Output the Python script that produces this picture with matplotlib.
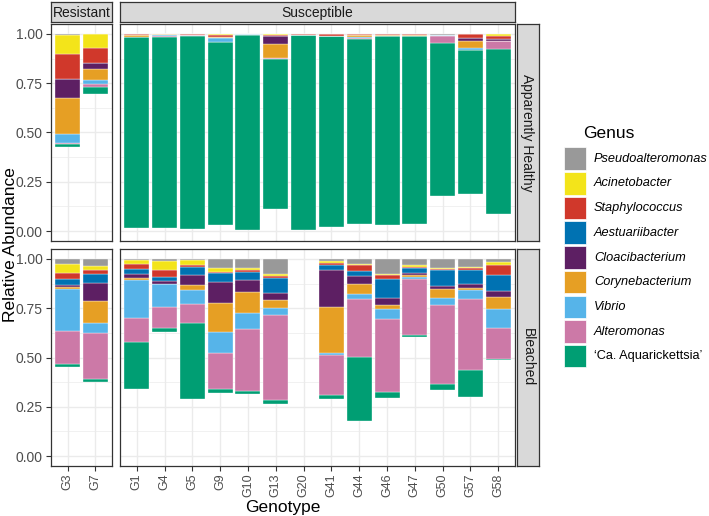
import numpy as np
import matplotlib
matplotlib.use("Agg")
import matplotlib.pyplot as plt
from matplotlib.patches import Rectangle

plt.rcParams['font.family'] = ['Liberation Sans', 'DejaVu Sans']

res_geno = ["G3", "G7"]
sus_geno = ["G1", "G4", "G5", "G9", "G10", "G13", "G20", "G41", "G44",
            "G46", "G47", "G50", "G57", "G58"]
genera = ["Pseudoalteromonas", "Acinetobacter", "Staphylococcus", "Aestuariibacter",
          "Cloacibacterium", "Corynebacterium", "Vibrio", "Alteromonas",
          "\u2018Ca. Aquarickettsia\u2019"]
colors = ["#999999", "#F3E41A", "#D0382B", "#0072B2", "#5D1F63",
          "#E69F24", "#56B4E9", "#CC79A7", "#009E73"]

# samples: G3, G7 | G1 G4 G5 G9 G10 G13 G20 G41 G44 G46 G47 G50 G57 G58
# apparently healthy
h_pseudo = [0.005, 0.003, 0, 0, 0, 0, 0, 0, 0, 0, 0, 0, 0, 0.005, 0, 0]
h_acineto = [0.095, 0.07, 0, 0, 0, 0.005, 0, 0.008, 0, 0, 0, 0, 0, 0, 0, 0.01]
h_staph = [0.127, 0.076, 0.005, 0, 0.008, 0.01, 0, 0.004, 0.008, 0.01, 0.006, 0.007, 0.007, 0, 0.022, 0.017]
h_aestu = [0, 0, 0, 0, 0, 0, 0, 0, 0, 0, 0, 0, 0, 0, 0, 0]
h_cloaci = [0.10, 0.031, 0, 0, 0, 0, 0, 0.04, 0, 0, 0, 0, 0, 0, 0.012, 0.007]
h_coryne = [0.18, 0.054, 0.01, 0.005, 0, 0.005, 0, 0.068, 0, 0, 0.008, 0.005, 0.006, 0, 0.039, 0]
h_vibrio = [0.047, 0.02, 0, 0.006, 0, 0.02, 0.004, 0, 0, 0, 0.005, 0, 0, 0.005, 0.007, 0.003]
h_altero = [0.005, 0.013, 0, 0.004, 0.004, 0, 0.004, 0.005, 0, 0, 0.006, 0, 0, 0.034, 0, 0.041]
h_aquar = [0.015, 0.038, 0.97, 0.97, 0.975, 0.927, 0.985, 0.763, 0.985, 0.97, 0.94, 0.958, 0.951, 0.776, 0.73, 0.837]

# bleached (G20 has no bleached sample)
b_pseudo = [0.024, 0.034, 0.006, 0.013, 0.005, 0.045, 0.045, 0.075, 0, 0.011, 0.024, 0.075, 0.031, 0.048, 0.04, 0.017]
b_acineto = [0.046, 0.022, 0.018, 0.044, 0.025, 0.02, 0.012, 0.012, 0, 0.012, 0.007, 0.009, 0.01, 0.005, 0.005, 0.016]
b_staph = [0.03, 0.02, 0.026, 0.035, 0.01, 0.008, 0.01, 0.008, 0, 0.008, 0.031, 0.016, 0.003, 0.005, 0.012, 0.051]
b_aestu = [0.033, 0.047, 0.028, 0.02, 0.042, 0.044, 0.042, 0.076, 0, 0.026, 0.025, 0.1, 0.029, 0.08, 0.072, 0.079]
b_cloaci = [0.009, 0.09, 0.017, 0.014, 0.051, 0.108, 0.059, 0.037, 0, 0.187, 0.042, 0.035, 0.009, 0.016, 0.017, 0.028]
b_coryne = [0.01, 0.11, 0.012, 0, 0.025, 0.144, 0.108, 0.043, 0, 0.231, 0.047, 0.017, 0.01, 0.042, 0.014, 0.065]
b_vibrio = [0.215, 0.051, 0.191, 0.116, 0.072, 0.109, 0.077, 0.034, 0, 0.012, 0.029, 0.054, 0.012, 0.038, 0.045, 0.096]
b_altero = [0.167, 0.233, 0.121, 0.106, 0.097, 0.183, 0.319, 0.43, 0, 0.203, 0.292, 0.371, 0.282, 0.401, 0.358, 0.157]
b_aquar = [0.012, 0.015, 0.242, 0.023, 0.381, 0.02, 0.014, 0.022, 0, 0.021, 0.324, 0.026, 0.008, 0.031, 0.137, 0.005]

healthy = np.array([h_pseudo, h_acineto, h_staph, h_aestu, h_cloaci, h_coryne, h_vibrio, h_altero, h_aquar])
bleached = np.array([b_pseudo, b_acineto, b_staph, b_aestu, b_cloaci, b_coryne, b_vibrio, b_altero, b_aquar])

W, H = 709, 516
fig = plt.figure(figsize=(W / 100, H / 100), dpi=100)


def px(x0, y0, x1, y1):
    return [x0 / W, 1 - y1 / H, (x1 - x0) / W, (y1 - y0) / H]


dark = "#333333"
xcols = [(51.3, 112), (120, 515)]
yrows = [(24, 241), (249, 466)]
groups = [(res_geno, slice(0, 2)), (sus_geno, slice(2, 16))]


def draw_panel(ax, data, labels, show_x, show_y):
    n = len(labels)
    x = np.arange(n)
    ax.set_xlim(-0.6, n - 0.4)
    ax.set_ylim(-0.05, 1.05)
    ax.set_yticks([0, 0.25, 0.5, 0.75, 1.0])
    ax.set_yticks([0.125, 0.375, 0.625, 0.875], minor=True)
    ax.set_xticks(x)
    ax.grid(True, which="major", color="#EBEBEB", lw=1.0)
    ax.grid(True, which="minor", axis="y", color="#EBEBEB", lw=0.5)
    ax.set_axisbelow(True)
    totals = data.sum(axis=0)
    bottom = 1 - totals
    for g in range(len(genera) - 1, -1, -1):
        vals = data[g]
        keep = totals > 0
        ax.bar(x[keep], vals[keep], bottom=bottom[keep], width=0.9,
               color=colors[g], edgecolor="white", linewidth=0.25)
        bottom = bottom + vals
    for s in ax.spines.values():
        s.set_color(dark)
        s.set_linewidth(0.9)
    ax.tick_params(which="major", length=3.5, color=dark, width=0.8,
                   labelsize=10, labelcolor="#4D4D4D", pad=2.5)
    ax.tick_params(axis="x", labelsize=9, pad=2)
    ax.tick_params(which="minor", length=0)
    if show_x:
        ax.set_xticklabels(labels, rotation=90)
    else:
        ax.set_xticklabels([])
        ax.tick_params(axis="x", length=0)
    if show_y:
        ax.set_yticklabels(["0.00", "0.25", "0.50", "0.75", "1.00"])
    else:
        ax.set_yticklabels([])
        ax.tick_params(axis="y", length=0)


for r, data in enumerate([healthy, bleached]):
    for c, (labels, sl) in enumerate(groups):
        ax = fig.add_axes(px(xcols[c][0], yrows[r][0], xcols[c][1], yrows[r][1]))
        draw_panel(ax, data[:, sl], labels, show_x=(r == 1), show_y=(c == 0))

# strips
for (x0, x1), name in zip(xcols, ["Resistant", "Susceptible"]):
    sax = fig.add_axes(px(x0, 1.5, x1, 22))
    sax.set_facecolor("#D9D9D9")
    sax.set_xticks([])
    sax.set_yticks([])
    for s in sax.spines.values():
        s.set_color(dark)
        s.set_linewidth(0.9)
    sax.text(0.5, 0.45, name, ha="center", va="center", fontsize=10, color="#1A1A1A",
             transform=sax.transAxes)
for (y0, y1), name in zip(yrows, ["Apparently Healthy", "Bleached"]):
    sax = fig.add_axes(px(516.5, y0, 538.5, y1))
    sax.set_facecolor("#D9D9D9")
    sax.set_xticks([])
    sax.set_yticks([])
    for s in sax.spines.values():
        s.set_color(dark)
        s.set_linewidth(0.9)
    sax.text(0.5, 0.5, name, ha="center", va="center", fontsize=10, color="#1A1A1A",
             rotation=-90, transform=sax.transAxes)

fig.text(11 / W, 1 - 245 / H, "Relative Abundance", rotation=90, ha="center",
         va="center", fontsize=12.5)
fig.text(283 / W, 1 - 507.5 / H, "Genotype", ha="center", va="center", fontsize=12.5)

# legend
fig.text(583 / W, 1 - 133 / H, "Genus", ha="left", va="center", fontsize=12.5)
for i, (name, col) in enumerate(zip(genera, colors)):
    y0 = 147.3 + i * 24.7
    fig.add_artist(Rectangle((563.5 / W, 1 - (y0 + 22.5) / H), 22.5 / W, 22.5 / H,
                             transform=fig.transFigure, facecolor=col, edgecolor="white",
                             lw=0.5))
    style = "normal" if i == len(genera) - 1 else "italic"
    fig.text(594 / W, 1 - (y0 + 11.5) / H, name, ha="left", va="center",
             fontsize=9.2, style=style)

fig.savefig("out.png", dpi=100)
